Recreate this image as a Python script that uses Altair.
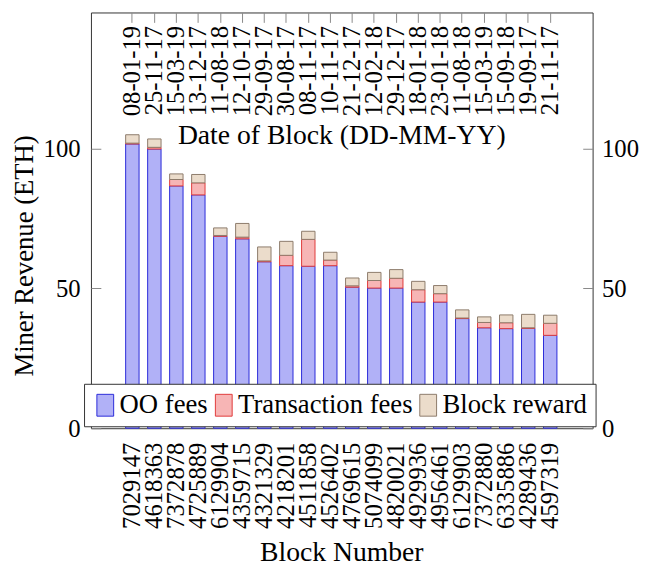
import json
import altair as alt
import pandas as pd

blocks = ["7029147", "4618363", "7372878", "4725889", "6129904", "4359715",
          "4321329", "4218201", "4511858", "4526402", "4769615", "5074099",
          "4820021", "4929936", "4956461", "6129903", "7372880", "6335886",
          "4289436", "4597319"]
dates = ["08-01-19", "25-11-17", "15-03-19", "13-12-17", "11-08-18", "12-10-17",
         "29-09-17", "30-08-17", "08-11-17", "10-11-17", "21-12-17", "12-02-18",
         "29-12-17", "18-01-18", "23-01-18", "11-08-18", "15-03-19", "15-09-18",
         "19-09-17", "21-11-17"]
oo_fees = [101.6, 99.8, 86.6, 83.4, 68.6, 67.7, 59.5, 58.1, 57.9, 58.1,
           50.4, 50.1, 50.1, 45.1, 45.1, 39.2, 35.9, 35.6, 35.7, 33.2]
tx_fees = [0.3, 0.6, 2.3, 4.3, 0.3, 0.6, 0.3, 3.7, 9.6, 2.0,
           0.5, 2.7, 3.5, 4.4, 3.0, 0.2, 1.9, 2.1, 0.2, 4.3]
block_reward = [3.0, 3.0, 2.0, 3.0, 2.7, 4.9, 5.0, 5.0, 2.9, 2.8,
                2.8, 2.9, 3.1, 3.0, 2.9, 2.9, 2.0, 2.8, 4.8, 2.9]

series = ["OO fees", "Transaction fees", "Block reward"]
fills = ["#b1b1f7", "#f7b5b5", "#ebdccb"]
strokes = ["#2a2ad8", "#e03a3a", "#8c7b6b"]

rows = []
for i, b in enumerate(blocks):
    for k, (name, vals) in enumerate(zip(series, [oo_fees, tx_fees, block_reward])):
        rows.append({"block": b, "date": dates[i], "type": name, "order": k, "value": vals[i]})
df = pd.DataFrame(rows)

FONT = "Liberation Serif"
TICK = 25
TITLE = 28

xscale = alt.Scale(range=[24, 483], paddingInner=0.39, paddingOuter=0.5)
yscale = alt.Scale(domain=[0, 148.6], nice=False, zero=True)

top_expr = "%s[indexof(%s, datum.value)]" % (json.dumps(dates), json.dumps(blocks))

bars = alt.Chart(df).mark_bar(strokeWidth=1).encode(
    x=alt.X("block:N", sort=blocks, scale=xscale,
            axis=alt.Axis(orient="bottom", title="Block Number", labelAngle=270,
                          labelAlign="right", labelBaseline="middle",
                          ticks=False, tickSize=0, domain=False, labelPadding=14,
                          labelFont=FONT, labelFontSize=TICK, labelColor="black",
                          titleFont=FONT, titleFontSize=TITLE, titleFontWeight="normal",
                          titleColor="black", titleY=126, titleBaseline="middle")),
    y=alt.Y("value:Q", stack="zero", scale=yscale,
            axis=alt.Axis(orient="left", title="Miner Revenue (ETH)", values=[0, 50, 100],
                          offset=-10, tickSize=10, tickColor="#888888", domain=False,
                          grid=False, labelPadding=11,
                          labelFont=FONT, labelFontSize=TICK, labelColor="black",
                          titleFont=FONT, titleFontSize=27, titleFontWeight="normal",
                          titleColor="black", titleX=-77, titleY=246, titleAngle=270,
                          titleAlign="center", titleBaseline="middle")),
    fill=alt.Fill("type:N", scale=alt.Scale(domain=series, range=fills), title=None,
                  legend=alt.Legend(orient="none", legendX=-7, legendY=376,
                                    direction="horizontal", columns=3,
                                    symbolType="M-1,-1.3H1V1.3H-1Z", symbolSize=289,
                                    symbolStrokeWidth=1, labelFont=FONT, labelFontSize=27,
                                    labelColor="black", labelOffset=1, columnPadding=2,
                                    padding=8, strokeColor="#333333", fillColor="white",
                                    labelLimit=400)),
    stroke=alt.Stroke("type:N", scale=alt.Scale(domain=series, range=strokes), title=None),
    order=alt.Order("order:Q"),
)

frame_axes = alt.Chart(df).mark_bar(opacity=0).encode(
    x=alt.X("block:N", sort=blocks, scale=xscale,
            axis=alt.Axis(orient="top", title="Date of Block (DD-MM-YY)", labelAngle=270,
                          labelAlign="right", labelBaseline="middle", labelExpr=top_expr,
                          offset=-10, tickSize=10, tickColor="#888888", domain=False,
                          labelPadding=-13,
                          labelFont=FONT, labelFontSize=TICK, labelColor="black",
                          titleFont=FONT, titleFontSize=TITLE, titleFontWeight="normal",
                          titleColor="black", titleY=115, titleBaseline="middle")),
    y=alt.Y("value:Q", stack="zero", scale=yscale,
            axis=alt.Axis(orient="right", title=None, values=[0, 50, 100],
                          offset=-10, tickSize=10, tickColor="#888888", domain=False,
                          grid=False, labelPadding=9,
                          labelFont=FONT, labelFontSize=TICK, labelColor="black")),
    order=alt.Order("order:Q"),
)

chart = alt.layer(bars, frame_axes).resolve_axis(
    x="independent", y="independent"
).properties(
    width=508, height=421,
    autosize=alt.AutoSizeParams(type="none"),
    padding={"left": 84, "top": 1, "right": 49, "bottom": 139},
).configure_view(stroke="#333333", strokeWidth=1)

chart.save("out.html", embed_options={"renderer": "svg", "actions": False})
